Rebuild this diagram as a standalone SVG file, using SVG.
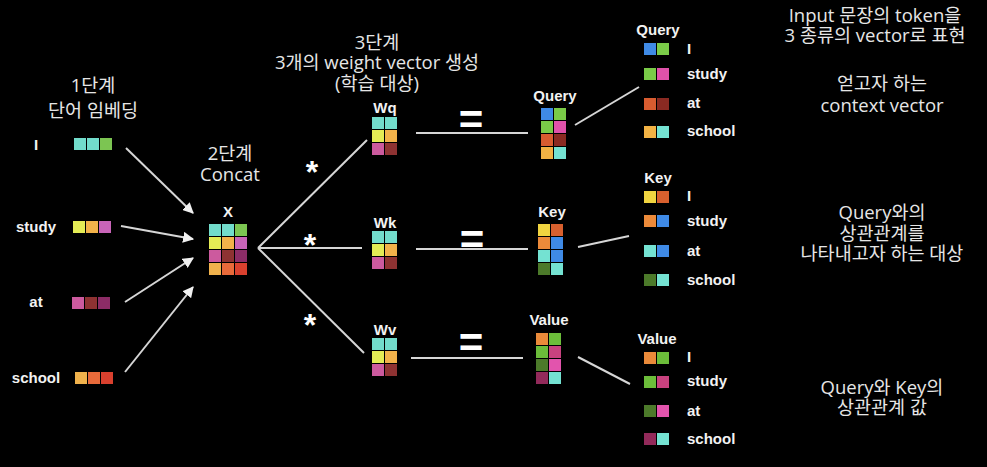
<svg xmlns="http://www.w3.org/2000/svg" width="987" height="467" viewBox="0 0 987 467">
<defs>
<style>
.lbl{font-family:"Liberation Sans",Arial,sans-serif;font-weight:bold;font-size:15px;fill:#f2f2f2}
.mid{text-anchor:middle}
.kr{font-family:"Open Sans","Noto Sans CJK KR",sans-serif;font-size:18.5px;fill:#e6e6e6;text-anchor:middle}
.op{font-family:"Liberation Sans",Arial,sans-serif;font-weight:bold;fill:#ffffff;text-anchor:middle}
.ln{stroke:#d6d6d6;stroke-width:2;fill:none}
</style>
<marker id="ah" viewBox="0 0 10 10" refX="9" refY="5" markerWidth="5.5" markerHeight="5.5" orient="auto">
<path d="M0,0 L10,5 L0,10 Z" fill="#f0f0f0"/>
</marker>
</defs>
<rect width="987" height="467" fill="#000"/>

<g id="step-texts">
<text class="kr" x="93" y="92">1단계</text>
<text class="kr" x="93" y="117">단어 임베딩</text>
<text class="kr" x="230" y="160">2단계</text>
<text class="kr" x="230" y="181">Concat</text>
<text class="kr" x="377" y="49">3단계</text>
<text class="kr" x="377" y="69">3개의 weight vector 생성</text>
<text class="kr" x="377" y="90">(학습 대상)</text>
<text class="kr" x="875" y="22">Input 문장의 token을</text>
<text class="kr" x="875" y="42">3 종류의 vector로 표현</text>
<text class="kr" x="882" y="90">얻고자 하는</text>
<text class="kr" x="882" y="112">context vector</text>
<text class="kr" x="882" y="219">Query와의</text>
<text class="kr" x="882" y="240">상관관계를</text>
<text class="kr" x="882" y="260">나타내고자 하는 대상</text>
<text class="kr" x="882" y="394">Query와 Key의</text>
<text class="kr" x="882" y="414">상관관계 값</text>
</g>

<g id="connectors">
<line class="ln" x1="126" y1="148" x2="193" y2="213" marker-end="url(#ah)"/>
<line class="ln" x1="121" y1="226" x2="193" y2="239" marker-end="url(#ah)"/>
<line class="ln" x1="125" y1="302" x2="193" y2="258" marker-end="url(#ah)"/>
<line class="ln" x1="125" y1="372" x2="193" y2="287" marker-end="url(#ah)"/>
<line class="ln" x1="258" y1="248" x2="367" y2="140"/>
<line class="ln" x1="258" y1="248" x2="362" y2="248"/>
<line class="ln" x1="258" y1="248" x2="364" y2="353"/>
<line class="ln" x1="416" y1="133" x2="528" y2="133"/>
<line class="ln" x1="416" y1="249" x2="528" y2="249"/>
<line class="ln" x1="411" y1="358" x2="523" y2="358"/>
<line class="ln" x1="575" y1="125" x2="639" y2="87"/>
<line class="ln" x1="578" y1="247" x2="629" y2="236"/>
<line class="ln" x1="578" y1="357" x2="630" y2="384"/>
</g>

<g id="operators">
<text class="op" x="312" y="183" font-size="32">*</text>
<text class="op" x="310" y="256" font-size="32">*</text>
<text class="op" x="310" y="336" font-size="32">*</text>
<text class="op" x="471" y="134" font-size="42">=</text>
<text class="op" x="472" y="254" font-size="42">=</text>
<text class="op" x="471" y="357" font-size="42">=</text>
</g>

<g id="word-I">
<text class="lbl mid" x="36" y="150">I</text>
<rect x="74" y="138" width="12" height="12" fill="#72dccb"/>
<rect x="87" y="138" width="12" height="12" fill="#72dccb"/>
<rect x="100" y="138" width="12" height="12" fill="#7cc552"/>
</g>
<g id="word-study">
<text class="lbl mid" x="36" y="232">study</text>
<rect x="73" y="221" width="12" height="12" fill="#e4ec55"/>
<rect x="86" y="221" width="12" height="12" fill="#f2b24a"/>
<rect x="99" y="221" width="12" height="12" fill="#c864b8"/>
</g>
<g id="word-at">
<text class="lbl mid" x="36" y="307">at</text>
<rect x="72" y="297" width="12" height="12" fill="#cc5a9e"/>
<rect x="85" y="297" width="12" height="12" fill="#8e3232"/>
<rect x="98" y="297" width="12" height="12" fill="#8c2c66"/>
</g>
<g id="word-school">
<text class="lbl mid" x="36" y="383">school</text>
<rect x="75" y="372" width="12" height="12" fill="#f0b24c"/>
<rect x="88" y="372" width="12" height="12" fill="#e86a3a"/>
<rect x="101" y="372" width="12" height="12" fill="#d9402e"/>
</g>

<g id="X">
<text class="lbl mid" x="228" y="217">X</text>
<rect x="209" y="224" width="12" height="12" fill="#72dccb"/>
<rect x="222" y="224" width="12" height="12" fill="#72dccb"/>
<rect x="235" y="224" width="12" height="12" fill="#7cc552"/>
<rect x="209" y="237" width="12" height="12" fill="#e4ec55"/>
<rect x="222" y="237" width="12" height="12" fill="#f2b24a"/>
<rect x="235" y="237" width="12" height="12" fill="#c864b8"/>
<rect x="209" y="250" width="12" height="12" fill="#cc5a9e"/>
<rect x="222" y="250" width="12" height="12" fill="#8e3232"/>
<rect x="235" y="250" width="12" height="12" fill="#8c2c66"/>
<rect x="209" y="263" width="12" height="12" fill="#f0b24c"/>
<rect x="222" y="263" width="12" height="12" fill="#e86a3a"/>
<rect x="235" y="263" width="12" height="12" fill="#d9402e"/>
</g>

<g id="Wq">
<text class="lbl mid" x="385" y="113">Wq</text>
<rect x="372" y="117" width="12" height="12" fill="#72dccb"/>
<rect x="385" y="117" width="12" height="12" fill="#72dccb"/>
<rect x="372" y="130" width="12" height="12" fill="#e4ec55"/>
<rect x="385" y="130" width="12" height="12" fill="#f2b24a"/>
<rect x="372" y="143" width="12" height="12" fill="#cc5a9e"/>
<rect x="385" y="143" width="12" height="12" fill="#8e3232"/>
</g>
<g id="Wk">
<text class="lbl mid" x="385" y="228">Wk</text>
<rect x="372" y="231" width="12" height="12" fill="#72dccb"/>
<rect x="385" y="231" width="12" height="12" fill="#72dccb"/>
<rect x="372" y="244" width="12" height="12" fill="#e4ec55"/>
<rect x="385" y="244" width="12" height="12" fill="#f2b24a"/>
<rect x="372" y="257" width="12" height="12" fill="#cc5a9e"/>
<rect x="385" y="257" width="12" height="12" fill="#8e3232"/>
</g>
<g id="Wv">
<text class="lbl mid" x="385" y="335">Wv</text>
<rect x="372" y="338" width="12" height="12" fill="#72dccb"/>
<rect x="385" y="338" width="12" height="12" fill="#72dccb"/>
<rect x="372" y="351" width="12" height="12" fill="#e4ec55"/>
<rect x="385" y="351" width="12" height="12" fill="#f2b24a"/>
<rect x="372" y="364" width="12" height="12" fill="#cc5a9e"/>
<rect x="385" y="364" width="12" height="12" fill="#8e3232"/>
</g>

<g id="Query">
<text class="lbl mid" x="555" y="101">Query</text>
<rect x="541" y="108" width="12" height="12" fill="#3f8ae6"/>
<rect x="554" y="108" width="12" height="12" fill="#7acb48"/>
<rect x="541" y="121" width="12" height="12" fill="#7acb48"/>
<rect x="554" y="121" width="12" height="12" fill="#e052aa"/>
<rect x="541" y="134" width="12" height="12" fill="#d85c30"/>
<rect x="554" y="134" width="12" height="12" fill="#8a2a22"/>
<rect x="541" y="147" width="12" height="12" fill="#f2b244"/>
<rect x="554" y="147" width="12" height="12" fill="#74e2d2"/>
</g>
<g id="Key">
<text class="lbl mid" x="552" y="217">Key</text>
<rect x="538" y="224" width="12" height="12" fill="#f0d440"/>
<rect x="551" y="224" width="12" height="12" fill="#d8602e"/>
<rect x="538" y="237" width="12" height="12" fill="#ec8a3a"/>
<rect x="551" y="237" width="12" height="12" fill="#3f8ae6"/>
<rect x="538" y="250" width="12" height="12" fill="#74e2d2"/>
<rect x="551" y="250" width="12" height="12" fill="#3f8ae6"/>
<rect x="538" y="263" width="12" height="12" fill="#4c7a2a"/>
<rect x="551" y="263" width="12" height="12" fill="#74e2d2"/>
</g>
<g id="Value">
<text class="lbl mid" x="549" y="325">Value</text>
<rect x="536" y="333" width="12" height="12" fill="#ea8a3a"/>
<rect x="549" y="333" width="12" height="12" fill="#6cbd3a"/>
<rect x="536" y="346" width="12" height="12" fill="#6cbd3a"/>
<rect x="549" y="346" width="12" height="12" fill="#c8427f"/>
<rect x="536" y="359" width="12" height="12" fill="#4c7a2a"/>
<rect x="549" y="359" width="12" height="12" fill="#e254ad"/>
<rect x="536" y="372" width="12" height="12" fill="#922a5a"/>
<rect x="549" y="372" width="12" height="12" fill="#74e2d2"/>
</g>

<g id="Query-list">
<text class="lbl mid" x="658" y="35">Query</text>
<rect x="644" y="43" width="12" height="12" fill="#3f8ae6"/>
<rect x="657" y="43" width="12" height="12" fill="#7acb48"/>
<text class="lbl" x="687" y="54">I</text>
<rect x="644" y="68" width="12" height="12" fill="#7acb48"/>
<rect x="657" y="68" width="12" height="12" fill="#e052aa"/>
<text class="lbl" x="687" y="79">study</text>
<rect x="644" y="98" width="12" height="12" fill="#d85c30"/>
<rect x="657" y="98" width="12" height="12" fill="#8a2a22"/>
<text class="lbl" x="687" y="108">at</text>
<rect x="644" y="126" width="12" height="12" fill="#f2b244"/>
<rect x="657" y="126" width="12" height="12" fill="#74e2d2"/>
<text class="lbl" x="687" y="136">school</text>
</g>
<g id="Key-list">
<text class="lbl mid" x="658" y="183">Key</text>
<rect x="644" y="191" width="12" height="12" fill="#f0d440"/>
<rect x="657" y="191" width="12" height="12" fill="#d8602e"/>
<text class="lbl" x="687" y="201">I</text>
<rect x="644" y="215" width="12" height="12" fill="#ec8a3a"/>
<rect x="657" y="215" width="12" height="12" fill="#3f8ae6"/>
<text class="lbl" x="687" y="226">study</text>
<rect x="644" y="245" width="12" height="12" fill="#74e2d2"/>
<rect x="657" y="245" width="12" height="12" fill="#3f8ae6"/>
<text class="lbl" x="687" y="256">at</text>
<rect x="644" y="274" width="12" height="12" fill="#4c7a2a"/>
<rect x="657" y="274" width="12" height="12" fill="#74e2d2"/>
<text class="lbl" x="687" y="285">school</text>
</g>
<g id="Value-list">
<text class="lbl mid" x="657" y="344">Value</text>
<rect x="644" y="352" width="12" height="12" fill="#ea8a3a"/>
<rect x="657" y="352" width="12" height="12" fill="#6cbd3a"/>
<text class="lbl" x="687" y="362">I</text>
<rect x="644" y="376" width="12" height="12" fill="#6cbd3a"/>
<rect x="657" y="376" width="12" height="12" fill="#c8427f"/>
<text class="lbl" x="687" y="386">study</text>
<rect x="644" y="405" width="12" height="12" fill="#4c7a2a"/>
<rect x="657" y="405" width="12" height="12" fill="#e254ad"/>
<text class="lbl" x="687" y="416">at</text>
<rect x="644" y="433" width="12" height="12" fill="#922a5a"/>
<rect x="657" y="433" width="12" height="12" fill="#74e2d2"/>
<text class="lbl" x="687" y="444">school</text>
</g>
</svg>
